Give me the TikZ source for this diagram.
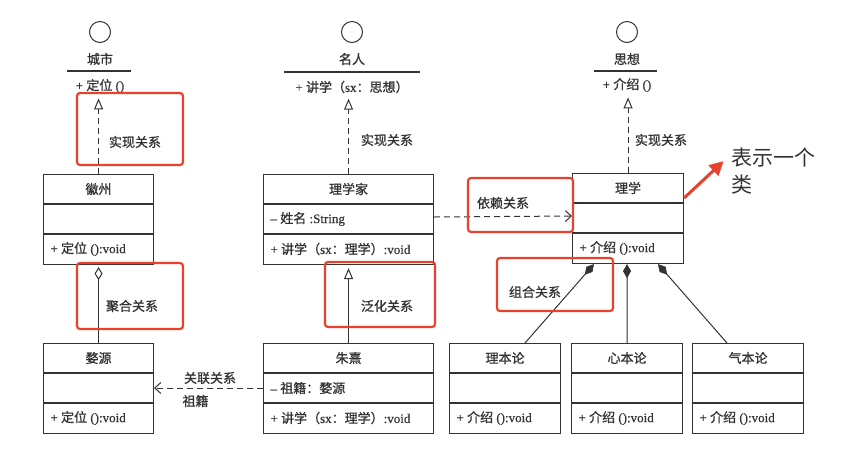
\documentclass[tikz,border=0pt]{standalone}
\usepackage{fontspec}
\setmainfont{Liberation Serif}[FakeBold=0.4]
\newfontfamily\cjk{Noto Sans CJK SC}[FakeBold=0.9]
\newfontfamily\cjknote{Noto Sans CJK SC}
\usetikzlibrary{arrows.meta,calc}
\newcommand\zh[1]{{\cjk #1}}
\definecolor{ink}{HTML}{333333}
\definecolor{annot}{HTML}{E8412C}
\newcommand\umlclass[7]{%
  \node[classbox, minimum width=#4pt, anchor=north west] (#1) at (#2,#3) {};
  \draw[classline] ([yshift=-30pt]#1.north west) -- ([yshift=-30pt]#1.north east);
  \draw[classline] ([yshift=-60pt]#1.north west) -- ([yshift=-60pt]#1.north east);
  \node (#1-t) at ([yshift=-15pt]#1.north) {#5};
  \node[anchor=west] (#1-a) at ([yshift=-45pt,xshift=4pt]#1.north west) {#6};
  \node[anchor=west] (#1-o) at ([yshift=-75pt,xshift=4pt]#1.north west) {#7};
}
\begin{document}
\begin{tikzpicture}[x=1pt,y=-1pt,
  every node/.style={font=\fontsize{13}{15}\selectfont, text=ink},
  classbox/.style={draw=ink, line width=1.1pt, minimum height=90pt, inner sep=0pt, rectangle},
  classline/.style={draw=ink, line width=1.1pt},
  iface/.style={circle, draw=ink, line width=1pt, minimum size=21pt, inner sep=0pt},
  real/.style={draw=ink, line width=1pt, dash pattern=on 6pt off 4pt, -{Triangle[open,length=11pt,width=9pt]}},
  gen/.style={draw=ink, line width=1pt, -{Triangle[open,length=11pt,width=9pt]}},
  dep/.style={draw=ink, line width=1pt, dash pattern=on 6pt off 4pt, -{Straight Barb[length=6pt,width=11pt]}},
  agg/.style={draw=ink, line width=1pt, {Diamond[open,length=13pt,width=8pt]}-},
  comp/.style={draw=ink, line width=1pt, {Diamond[length=14pt,width=8pt]}-},
  annotbox/.style={draw=annot, line width=2.2pt, rounded corners=3pt},
]
\useasboundingbox[fill=white] (0,0) rectangle (851,475);

% interfaces
\node[iface] (city) at (100,32) {};
\node (city-t) at (100,59) {\zh{城市}};
\draw[classline] (67,71) -- (131,71);
\node (city-o) at (100,86) {+ \zh{定位} ()};

\node[iface] (mingren) at (352,32) {};
\node (mingren-t) at (352,59) {\zh{名人}};
\draw[classline] (284,72) -- (420,72);
\node (mingren-o) at (352,87) {+ \zh{讲学（}sx\zh{：思想）}};

\node[iface] (sixiang) at (627,32) {};
\node (sixiang-t) at (627,59) {\zh{思想}};
\draw[classline] (594,71) -- (657,71);
\node (sixiang-o) at (627,85) {+ \zh{介绍} ()};

% classes
\umlclass{huizhou}{43}{174}{110}{\zh{徽州}}{}{+ \zh{定位} ():void}
\umlclass{wuyuan}{43}{343}{110}{\zh{婺源}}{}{+ \zh{定位} ():void}
\umlclass{lixuejia}{263}{174}{170}{\zh{理学家}}{– \zh{姓名} :String}{+ \zh{讲学（}sx\zh{：理学）}:void}
\umlclass{zhuxi}{263}{343}{170}{\zh{朱熹}}{– \zh{祖籍：婺源}}{+ \zh{讲学（}sx\zh{：理学）}:void}
\umlclass{lixue}{572}{173}{111}{\zh{理学}}{}{+ \zh{介绍} ():void}
\umlclass{liben}{449}{343}{111}{\zh{理本论}}{}{+ \zh{介绍} ():void}
\umlclass{xinben}{571}{343}{111}{\zh{心本论}}{}{+ \zh{介绍} ():void}
\umlclass{qiben}{692}{343}{111}{\zh{气本论}}{}{+ \zh{介绍} ():void}

% relations
\draw[real, shorten >=2pt] (huizhou.north) -- (huizhou.north |- city-o.south);
\draw[real, shorten >=2pt] (lixuejia.north) -- (lixuejia.north |- mingren-o.south);
\draw[real, shorten >=2pt] (lixue.north) -- (lixue.north |- sixiang-o.south);
\draw[agg, shorten <=2pt] (huizhou.south) -- (wuyuan.north);
\draw[gen, shorten >=3pt] (zhuxi.north) -- (lixuejia.south);
\draw[dep] ($(lixuejia.north east)+(0,43)$) -- ($(lixue.north west)+(0,43)$);
\draw[dep] ($(zhuxi.north west)+(0,45)$) -- ($(wuyuan.north east)+(0,45)$);
\draw[comp] ($(lixue.south west)+(22,0)$) -- ($(liben.north west)+(76,0)$);
\draw[comp] ($(lixue.south west)+(55,0)$) -- (xinben.north);
\draw[comp] ($(lixue.south west)+(86,0)$) -- ($(qiben.north west)+(35,0)$);

% labels
\node (l1) at (135,142) {\zh{实现关系}};
\node (l2) at (387,140) {\zh{实现关系}};
\node (l3) at (661,140) {\zh{实现关系}};
\node (l4) at (132,306) {\zh{聚合关系}};
\node (l5) at (387,306) {\zh{泛化关系}};
\node (l6) at (503,203) {\zh{依赖关系}};
\node (l7) at (535,292) {\zh{组合关系}};
\node (l8) at (210,378) {\zh{关联关系}};
\node[anchor=west] (l9) at (179,401) {\zh{祖籍}};

% annotations
\draw[annotbox] (77,93) rectangle (183,165);
\draw[annotbox] (77,263) rectangle (183,329);
\draw[annotbox] (325,262) rectangle (435,327);
\draw[annotbox] (468,178) rectangle (573,232);
\draw[annotbox] (497,258) rectangle (613,311);

\node[anchor=west, font=\fontsize{21}{26}\selectfont\cjknote, text=ink] (note1) at (728,157) {表示一个};
\node[anchor=west, font=\fontsize{21}{26}\selectfont\cjknote, text=ink] (note2) at (728,185) {类};
\draw[annot, line width=3pt, -{Triangle[length=14pt,width=14pt]}, shorten >=6pt] ($(lixue.north east)+(0,25)$) -- (note1.west);
\end{tikzpicture}
\end{document}
